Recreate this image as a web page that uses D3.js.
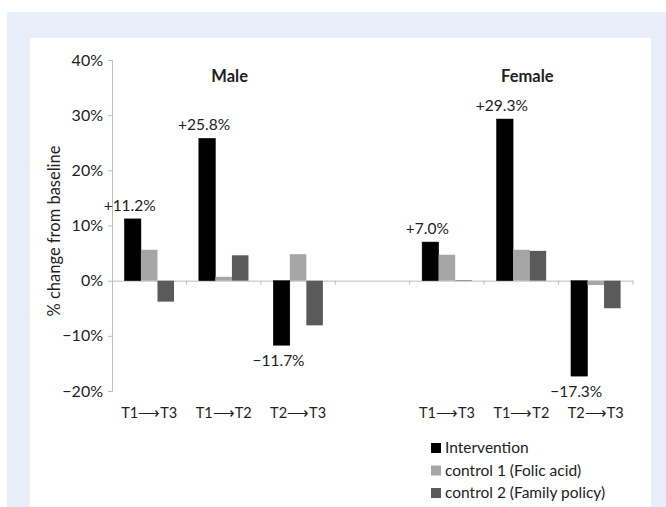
<html>
  <script src="https://d3js.org/d3.v7.min.js"></script>
  <style>
    body { margin: 0; background: #fff; }
    text { font-family: Lato, "Open Sans", sans-serif; fill: #222; }
  </style>
  <body>
    <script>
      // chart data
      let categories = ["M1", "M2", "M3", "gap", "F1", "F2", "F3"];
      let catLabels = ["T1\u27F6T3", "T1\u27F6T2", "T2\u27F6T3", "", "T1\u27F6T3", "T1\u27F6T2", "T2\u27F6T3"];
      let seriesNames = ["Intervention", "control 1 (Folic acid)", "control 2 (Family policy)"];
      let intervention = [11.2, 25.8, -11.7, null, 7.0, 29.3, -17.3];
      let control1 = [5.6, 0.7, 4.8, null, 4.7, 5.6, -0.8];
      let control2 = [-3.8, 4.6, -8.1, null, 0.1, 5.4, -5.0];
      let valueLabels = ["+11.2%", "+25.8%", "\u221211.7%", "", "+7.0%", "+29.3%", "\u221217.3%"];
      let yTicks = [-20, -10, 0, 10, 20, 30, 40];
      let groupTitles = [{text: "Male", cat: "M2"}, {text: "Female", cat: "F2"}];
      let colors = ["#000000", "#a6a6a6", "#5a5a5a"];

      let width = 666;
      let height = 507;
      let svg = d3.select("body").append("svg")
                  .attr("width", width)
                  .attr("height", height);

      // background frame
      svg.append("rect").attr("x", 7).attr("y", 12).attr("width", width - 7).attr("height", height - 12)
         .attr("fill", "#e7eef8");
      svg.append("rect").attr("x", 30).attr("y", 38).attr("width", 621).attr("height", height - 38)
         .attr("fill", "#ffffff");

      let x = d3.scaleBand().domain(categories).range([112, 633]);
      let y = d3.scaleLinear().domain([-20, 40]).range([391, 60]);
      // Excel-like gap width 150%
      let barW = x.bandwidth() / 4.5;
      let pad = barW * 0.75;

      // y axis
      let yAxis = svg.append("g").attr("transform", "translate(112,0)")
         .call(d3.axisLeft(y).tickValues(yTicks).tickSize(4)
               .tickFormat(d => (d < 0 ? "\u2212" + Math.abs(d) : d) + "%"));
      yAxis.select(".domain").attr("stroke", "#bdbdbd");
      yAxis.selectAll(".tick line").attr("stroke", "#bdbdbd");
      yAxis.selectAll(".tick text").attr("font-size", 16).attr("fill", "#222")
           .attr("x", -9).style("font-family", "Lato, sans-serif");

      // x axis at zero
      let xAxis = svg.append("g").attr("transform", `translate(0,${y(0)})`)
         .call(d3.axisBottom(x).tickSize(0).tickFormat(""));
      xAxis.select(".domain").attr("stroke", "#bdbdbd");
      let bounds = categories.map(c => x(c)).concat([x.range()[1]]);
      bounds.slice(1).forEach(b => {
        svg.append("line").attr("x1", b).attr("x2", b)
           .attr("y1", y(0)).attr("y2", y(0) + 4).attr("stroke", "#bdbdbd");
      });

      // bars
      let series = [intervention, control1, control2];
      series.forEach((vals, s) => {
        svg.append("g").selectAll("rect")
           .data(categories.map((c, i) => ({c: c, v: vals[i]})).filter(d => d.v !== null))
           .join("rect")
           .attr("x", d => x(d.c) + pad + s * barW)
           .attr("width", barW)
           .attr("y", d => y(Math.max(0, d.v)))
           .attr("height", d => Math.abs(y(d.v) - y(0)))
           .attr("fill", colors[s])
           .attr("stroke", s === 0 ? "#000" : "none")
           .attr("stroke-width", 0.5);
      });

      // value labels for intervention bars
      categories.forEach((c, i) => {
        let v = intervention[i];
        if (v === null) return;
        let cx = x(c) + pad + barW / 2;
        svg.append("text")
           .attr("x", cx - 3)
           .attr("y", v >= 0 ? y(v) - 8 : y(v) + 21)
           .attr("text-anchor", "middle")
           .attr("font-size", 15.5)
           .text(valueLabels[i]);
      });

      // category labels
      categories.forEach((c, i) => {
        svg.append("text")
           .attr("x", x(c) + x.bandwidth() / 2)
           .attr("y", 418)
           .attr("text-anchor", "middle")
           .attr("font-size", 14.5)
           .text(catLabels[i]);
      });

      // group titles
      groupTitles.forEach(g => {
        svg.append("text")
           .attr("x", x(g.cat) + x.bandwidth() / 2 + 6)
           .attr("y", 82)
           .attr("text-anchor", "middle")
           .attr("font-size", 16.5)
           .attr("font-weight", "bold")
           .text(g.text);
      });

      // y axis title
      svg.append("text")
         .attr("transform", "translate(60,231) rotate(-90)")
         .attr("text-anchor", "middle")
         .attr("font-size", 16.5)
         .text("% change from baseline");

      // legend
      seriesNames.forEach((n, i) => {
        let ly = 443 + i * 22.5;
        svg.append("rect").attr("x", 431).attr("y", ly).attr("width", 10).attr("height", 10)
           .attr("fill", colors[i]);
        svg.append("text").attr("x", 445).attr("y", ly + 10)
           .attr("font-size", 15.5).text(n);
      });
    </script>
  </body>
</html>
